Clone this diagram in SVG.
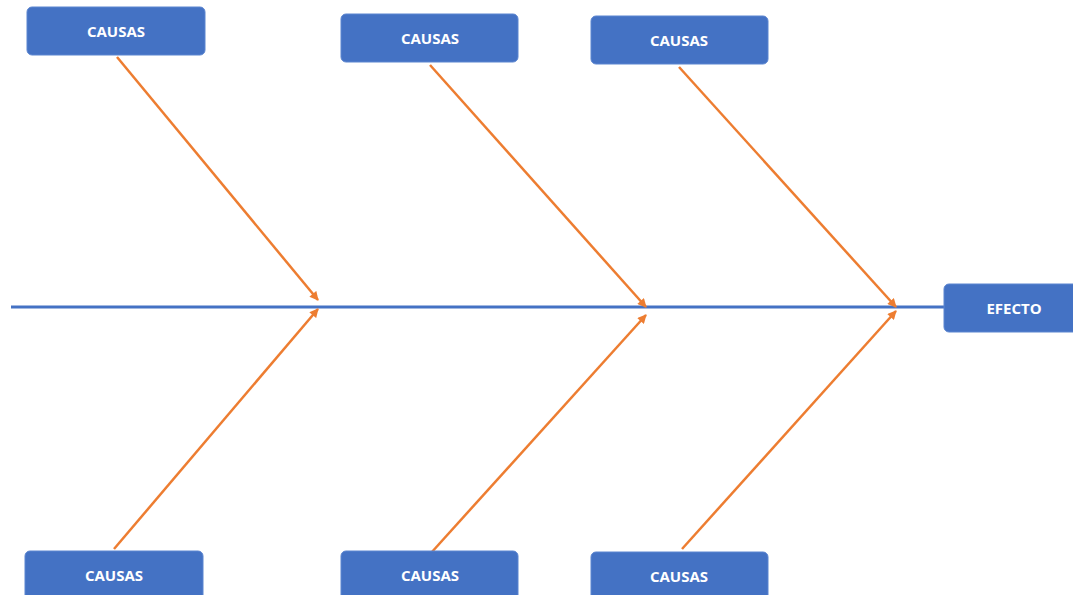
<svg xmlns="http://www.w3.org/2000/svg" width="1073" height="595" viewBox="0 0 1073 595">
  <style>
    .box { fill: #4472C4; stroke: #5B85D0; stroke-width: 1; }
    .lbl { fill: #FFFFFF; font-family: "Open Sans", "Liberation Sans", sans-serif; font-weight: bold; font-size: 15px; text-anchor: middle; dominant-baseline: central; }
    .spine { stroke: #4472C4; stroke-width: 3; fill: none; }
    .bone { stroke: #ED7D31; stroke-width: 2.5; fill: none; marker-end: url(#head); }
  </style>
  <defs>
    <!-- filled triangular arrowhead for the cause bones -->
    <marker id="head" viewBox="0 0 10 10" refX="9" refY="5" markerWidth="10" markerHeight="9" orient="auto" markerUnits="userSpaceOnUse">
      <path d="M0,0 L10,5 L0,10 Z" fill="#ED7D31"/>
    </marker>
  </defs>
  <rect width="1073" height="595" fill="#FFFFFF"/>

  <g id="connectors">
    <line class="spine" x1="11" y1="307" x2="944" y2="307"/>
    <line class="bone" x1="117" y1="57" x2="318" y2="300"/>
    <line class="bone" x1="430" y1="65" x2="646" y2="307"/>
    <line class="bone" x1="679" y1="67" x2="896" y2="307"/>
    <line class="bone" x1="114" y1="549" x2="318" y2="309"/>
    <line class="bone" x1="431" y1="553" x2="646" y2="315"/>
    <line class="bone" x1="682" y1="549" x2="896" y2="311"/>
  </g>

  <g id="cause-top-1">
    <rect class="box" x="27" y="7" width="178" height="48" rx="5"/>
    <text class="lbl" x="116" y="31">CAUSAS</text>
  </g>
  <g id="cause-top-2">
    <rect class="box" x="341" y="14" width="177" height="48" rx="5"/>
    <text class="lbl" x="430" y="38">CAUSAS</text>
  </g>
  <g id="cause-top-3">
    <rect class="box" x="591" y="16" width="177" height="48" rx="5"/>
    <text class="lbl" x="679" y="40">CAUSAS</text>
  </g>
  <g id="cause-bottom-1">
    <rect class="box" x="25" y="551" width="178" height="52" rx="5"/>
    <text class="lbl" x="114" y="575">CAUSAS</text>
  </g>
  <g id="cause-bottom-2">
    <rect class="box" x="341" y="551" width="177" height="52" rx="5"/>
    <text class="lbl" x="430" y="575">CAUSAS</text>
  </g>
  <g id="cause-bottom-3">
    <rect class="box" x="591" y="552" width="177" height="52" rx="5"/>
    <text class="lbl" x="679" y="576">CAUSAS</text>
  </g>
  <g id="effect">
    <rect class="box" x="944" y="284" width="140" height="48" rx="5"/>
    <text class="lbl" x="1014" y="308">EFECTO</text>
  </g>
</svg>
